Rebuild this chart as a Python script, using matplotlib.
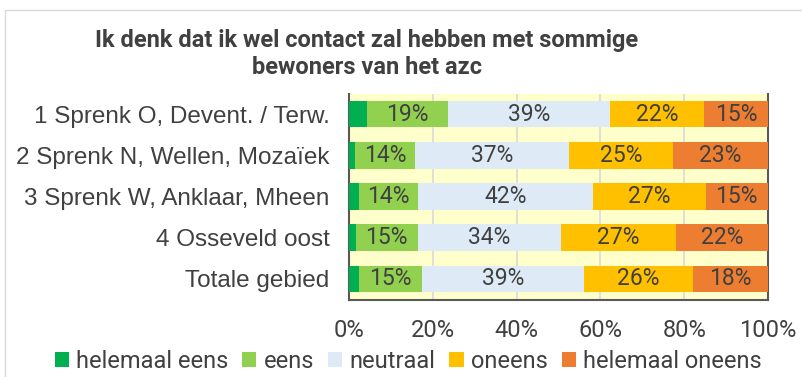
import matplotlib
matplotlib.use('Agg')
import matplotlib.pyplot as plt
from matplotlib.patches import Rectangle, Patch
import numpy as np

# survey answers per area, in percent
areas = ["1 Sprenk O, Devent. / Terw.", "2 Sprenk N, Wellen, Mozaïek",
         "3 Sprenk W, Anklaar, Mheen", "4 Osseveld oost", "Totale gebied"]
helemaal_eens = [4.2, 1.4, 2.5, 1.6, 2.4]
eens = [19.4, 14.4, 13.9, 14.8, 15.0]
neutraal = [38.8, 36.7, 41.9, 34.2, 38.7]
oneens = [22.4, 24.8, 26.8, 27.4, 26.1]
helemaal_oneens = [15.2, 22.7, 14.9, 22.0, 17.8]

series_names = ["helemaal eens", "eens", "neutraal", "oneens", "helemaal oneens"]
colors = ["#00B050", "#92D050", "#DEEBF7", "#FFC000", "#ED7D31"]
ticks = [0, 20, 40, 60, 80, 100]

TXT = "#404040"
CAL = ["Roboto", "DejaVu Sans"]

W, H = 802, 377
fig = plt.figure(figsize=(W / 100, H / 100), dpi=100)

# outer chart frame
fig.patches.append(Rectangle((5 / W, -0.1), 1.2, (H - 10) / H + 0.1,
                             transform=fig.transFigure, fill=False,
                             edgecolor="#D9D9D9", linewidth=1))

left, right, top, bottom = 349, 768, 93.5, 299.5
ax = fig.add_axes([left / W, 1 - bottom / H, (right - left) / W, (bottom - top) / H])
ax.set_facecolor("#FFFFCC")

data = [helemaal_eens, eens, neutraal, oneens, helemaal_oneens]
y = np.arange(len(areas))
start = np.zeros(len(areas))
for i, (vals, col) in enumerate(zip(data, colors)):
    vals = np.array(vals)
    bars = ax.barh(y, vals, left=start, height=0.65, color=col, zorder=3)
    if i > 0:
        ax.bar_label(bars, labels=[f"{v:.0f}%" for v in vals], label_type='center',
                     color=TXT, fontsize=16.5, family=CAL)
    start += vals

ax.set_xlim(0, 100)
ax.set_ylim(len(areas) - 0.5, -0.5)
ax.set_yticks(y)
ax.set_yticklabels(areas, fontsize=17.5, color=TXT, family="Liberation Sans")
ax.set_xticks(ticks)
ax.set_xticklabels([f"{t}%" for t in ticks], fontsize=17, color=TXT, family=CAL)
ax.tick_params(length=0)
ax.tick_params(axis='x', pad=14)
ax.tick_params(axis='y', pad=14)
ax.grid(axis='x', color="#D9D9D9", linewidth=1.2, zorder=1)
ax.set_axisbelow(True)
for s in ['left', 'right', 'bottom']:
    ax.spines[s].set_color("#595959")
    ax.spines[s].set_linewidth(1.5)
ax.spines['top'].set_visible(False)

fig.text(367 / W, 1 - 40 / H, "Ik denk dat ik wel contact zal hebben met sommige",
         ha='center', va='center', fontsize=17, fontweight='bold', color=TXT, family=CAL)
fig.text(367 / W, 1 - 68 / H, "bewoners van het azc",
         ha='center', va='center', fontsize=17, fontweight='bold', color=TXT, family=CAL)

handles = [Patch(facecolor=c, edgecolor='none') for c in colors]
fig.legend(handles, series_names, loc='center', bbox_to_anchor=(408 / W, 1 - 361 / H),
           ncol=5, frameon=False, handlelength=0.6, handleheight=0.6,
           handletextpad=0.3, columnspacing=0.6, borderaxespad=0,
           prop={'family': CAL, 'size': 17}, labelcolor=TXT)

fig.savefig("out.png", dpi=100)
